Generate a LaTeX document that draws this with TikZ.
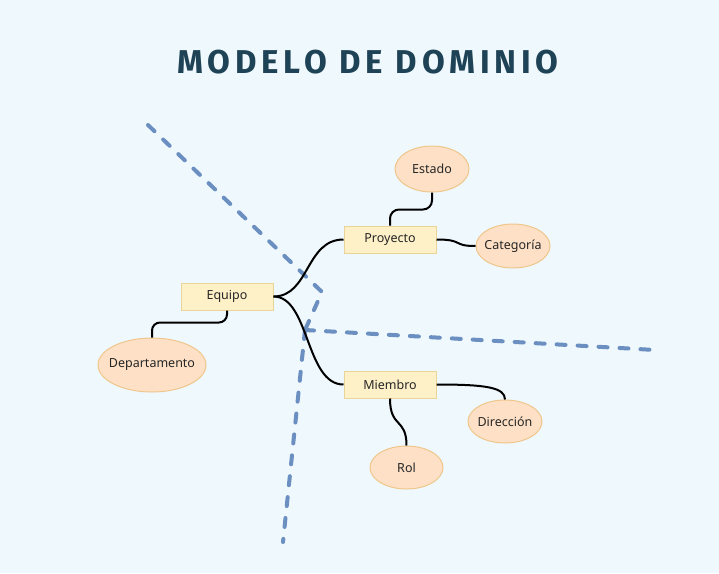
\documentclass[tikz,border=0pt]{standalone}
\usepackage{fontspec}
\setmainfont{Noto Sans}
\newfontfamily\titlefont[LetterSpace=14.5]{Fira Sans}
\usetikzlibrary{shapes.geometric}
\definecolor{bgc}{HTML}{EFF8FC}
\definecolor{titlec}{HTML}{1E4256}
\definecolor{rectfill}{HTML}{FEF0C7}
\definecolor{rectdraw}{HTML}{EBD49A}
\definecolor{ellfill}{HTML}{FDE0C5}
\definecolor{elldraw}{HTML}{EFC78C}
\definecolor{dashc}{HTML}{6A8FC0}
\tikzset{
  entity/.style={draw=rectdraw, fill=rectfill, line width=1pt, minimum width=92pt, minimum height=27pt, inner sep=0pt, font=\fontsize{12.5}{14}\selectfont, text=black!85},
  attrib/.style={ellipse, draw=elldraw, fill=ellfill, line width=1pt, inner xsep=-14pt, inner ysep=-4pt, font=\fontsize{12.5}{14}\selectfont, text=black!85},
  conn/.style={line width=2pt, black},
  border/.style={dashc, line width=4pt, dash pattern=on 9pt off 12pt, line cap=round, line join=round}
}
\begin{document}
\begin{tikzpicture}[x=1pt,y=-1pt]
\fill[bgc] (0,0) rectangle (719,573);
\useasboundingbox (0,0) rectangle (719,573);

\node[font=\fontsize{33}{38}\selectfont\titlefont\bfseries, text=titlec] (title) at (368,62) {MODELO DE DOMINIO};

% dashed region borders
\coordinate (a1) at (148,125);
\coordinate (a2) at (322,292);
\coordinate (j) at (305,330);
\coordinate (c1) at (655,350);
\coordinate (d1) at (283,542);
\draw[border] (a1) -- (a2) -- (j);
\draw[border] (j) -- (c1);
\draw[border] (j) -- (d1);

% nodes
\node[entity] (equipo) at (227,296.5) {Equipo};
\node[entity] (proyecto) at (390,239.5) {Proyecto};
\node[entity] (miembro) at (390,384.5) {Miembro};
\node[attrib, minimum width=74pt, minimum height=46pt] (estado) at (432,169) {Estado};
\node[attrib, minimum width=74pt, minimum height=44pt] (categoria) at (513,246) {Categoría};
\node[attrib, minimum width=108pt, minimum height=54pt] (depto) at (152,365) {Departamento};
\node[attrib, minimum width=74pt, minimum height=43pt] (direccion) at (505,421.5) {Dirección};
\node[attrib, minimum width=73pt, minimum height=43pt] (rol) at (406.5,467.5) {Rol};

% connectors
\draw[conn] (equipo.east) .. controls +(36,0) and +(-38,0) .. (proyecto.west);
\draw[conn] (equipo.east) .. controls +(36,0) and +(-38,0) .. (miembro.west);
\draw[conn, rounded corners=8pt] (equipo.south) -- ++(0,12) -| (depto.north);
\draw[conn, rounded corners=9pt] (proyecto.north) -- ++(0,-16) -| (estado.south);
\draw[conn] (proyecto.east) .. controls +(28,0) and +(-24,0) .. (categoria.west);
\draw[conn] (miembro.east) .. controls +(50,0) and +(0,-12) .. (direccion.north);
\draw[conn] (miembro.south) .. controls +(0,30) and +(0,-28) .. (rol.north);
\end{tikzpicture}
\end{document}
